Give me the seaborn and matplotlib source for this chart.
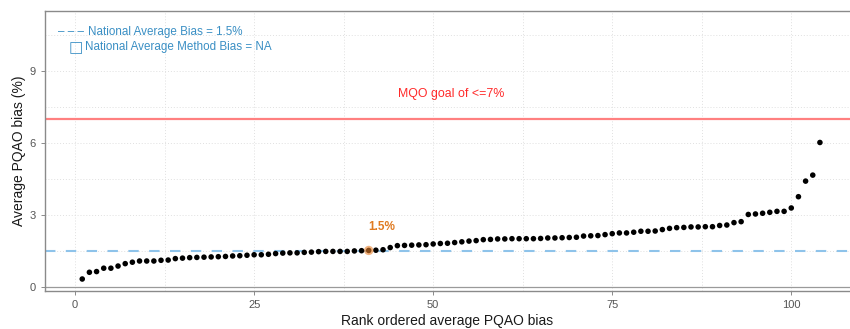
import numpy as np
import pandas as pd
import matplotlib
matplotlib.use("Agg")
import matplotlib.pyplot as plt
from matplotlib.ticker import MultipleLocator
import seaborn as sns

# ranked average PQAO bias (%)
bias_vals = [
    0.32, 0.60, 0.63, 0.77, 0.77, 0.86, 0.96, 1.02, 1.07, 1.07,
    1.07, 1.10, 1.11, 1.17, 1.19, 1.21, 1.22, 1.23, 1.24, 1.25,
    1.26, 1.28, 1.29, 1.31, 1.33, 1.33, 1.35, 1.38, 1.40, 1.41,
    1.41, 1.43, 1.44, 1.46, 1.47, 1.47, 1.47, 1.47, 1.49, 1.50,
    1.51, 1.52, 1.54, 1.63, 1.71, 1.72, 1.73, 1.74, 1.75, 1.78,
    1.80, 1.81, 1.84, 1.87, 1.90, 1.92, 1.96, 1.97, 1.99, 1.99,
    2.00, 2.00, 2.00, 2.00, 2.01, 2.03, 2.03, 2.04, 2.05, 2.06,
    2.11, 2.12, 2.13, 2.17, 2.21, 2.24, 2.24, 2.27, 2.31, 2.31,
    2.32, 2.38, 2.43, 2.46, 2.47, 2.49, 2.49, 2.50, 2.50, 2.55,
    2.57, 2.67, 2.71, 3.01, 3.03, 3.06, 3.10, 3.14, 3.14, 3.28,
    3.75, 4.40, 4.65, 6.01,
]
ranks = list(range(1, len(bias_vals) + 1))

national_bias = 1.5
highlight_rank = 41
mqo_goal = 7

df = pd.DataFrame({"rank": ranks, "bias": bias_vals})

sns.set_style("white")
plt.rcParams["font.family"] = ["Liberation Sans", "DejaVu Sans"]

fig = plt.figure(figsize=(8.5, 3.29), dpi=100)
ax = fig.add_axes([45 / 850, 1 - 291 / 329, 1 - 45 / 850, (291 - 11) / 329])

# grid (major + minor, dotted)
ax.xaxis.set_major_locator(MultipleLocator(25))
ax.xaxis.set_minor_locator(MultipleLocator(12.5))
ax.yaxis.set_major_locator(MultipleLocator(3))
ax.yaxis.set_minor_locator(MultipleLocator(1.5))
ax.grid(True, which="both", color="#e0e0e0", linestyle=(0, (1, 2)), linewidth=0.7)
ax.set_axisbelow(True)

ax.axhline(0, color="#9a9a9a", lw=0.9, zorder=1)
ax.axhline(mqo_goal, color="#ff8080", lw=1.6, zorder=1)
ax.axhline(national_bias, color="#8ec3ea", lw=1.5, ls=(0, (5, 5)), zorder=1)

sns.scatterplot(data=df, x="rank", y="bias", color="black", s=16,
                edgecolor="none", ax=ax, zorder=3)

hl = df[df["rank"] == highlight_rank]
ax.scatter(hl["rank"], hl["bias"], s=45, color="#e8802a", alpha=0.6,
           edgecolors="none", zorder=4)
ax.text(highlight_rank + 1.8, 2.5, "1.5%", color="#e07b22", fontsize=8.5,
        fontweight="bold", ha="center", va="center")

ax.text(52.5, 8.05, "MQO goal of <=7%", color="#ff2a2a", fontsize=8.9,
        ha="center", va="center")

ax.text(-2.4, 10.6, "– – –", color="#3a8fc4", fontsize=8.4, ha="left", va="center")
ax.text(1.8, 10.6, "National Average Bias = 1.5%", color="#3a8fc4",
        fontsize=8.4, ha="left", va="center")
ax.text(-0.9, 9.98, "\u25a1", color="#3a8fc4", fontsize=11, ha="left", va="center",
        family=["DejaVu Sans"])
ax.text(1.4, 9.98, "National Average Method Bias = NA", color="#3a8fc4",
        fontsize=8.4, ha="left", va="center")

ax.set_xlim(-4.2, 108.2)
ax.set_ylim(-0.18, 11.49)

ax.set_xlabel("Rank ordered average PQAO bias", fontsize=10, color="#1a1a1a", labelpad=3)
ax.set_ylabel("Average PQAO bias (%)", fontsize=10, color="#1a1a1a", labelpad=3)

ax.tick_params(axis="both", which="major", labelsize=8, labelcolor="#555555",
               color="#777777", length=3, width=0.6, direction="out",
               bottom=True, left=True)
ax.tick_params(which="minor", length=0)

for side in ["left", "bottom", "top"]:
    ax.spines[side].set_color("#8a8a8a")
    ax.spines[side].set_linewidth(1.0)
ax.spines["right"].set_visible(False)

fig.savefig("out.png", dpi=100)
